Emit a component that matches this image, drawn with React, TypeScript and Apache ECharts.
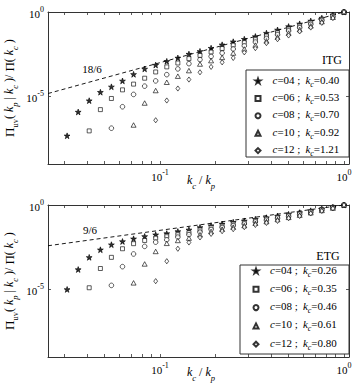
import React, { useEffect, useRef } from 'react';
import * as echarts from 'echarts';

const FONT = '"Liberation Serif", "Times New Roman", serif';

// x = k_c / k_p (from 1 down to the smallest ratio)
const kRatio = [1, 0.8706, 0.7579, 0.6598, 0.5743, 0.5, 0.4353, 0.3789, 0.3299, 0.2872, 0.25, 0.2176, 0.1895,
  0.1649, 0.1436, 0.125, 0.1088, 0.0947, 0.0825, 0.0718, 0.0625, 0.0544, 0.0474, 0.0412, 0.0359, 0.03125];

// log10 of Π_uv(k_p|k_c)/Π(k_c) — ITG panel
const itgC04 = [0, -0.18, -0.36, -0.53, -0.70, -0.86, -1.06, -1.25, -1.45, -1.61, -1.76, -1.94, -2.14, -2.33, -2.49,
  -2.72, -2.92, -3.14, -3.37, -3.69, -4.08, -4.43, -4.75, -5.25, -5.92, -7.33];
const itgC06 = [0, -0.22, -0.43, -0.63, -0.82, -1.0, -1.22, -1.41, -1.61, -1.80, -1.96, -2.16, -2.37, -2.57, -2.76,
  -3.02, -3.25, -3.55, -3.92, -4.27, -4.61, -5.12, -5.78, -7.04];
const itgC08 = [0, -0.27, -0.50, -0.73, -0.93, -1.12, -1.35, -1.57, -1.78, -2.0, -2.19, -2.43, -2.63, -2.82, -3.06,
  -3.37, -3.71, -4.08, -4.39, -4.88, -5.61, -6.88];
const itgC10 = [0, -0.31, -0.57, -0.82, -1.04, -1.25, -1.49, -1.71, -1.96, -2.19, -2.43, -2.69, -2.88, -3.08, -3.47,
  -3.80, -4.16, -4.65, -5.39, -6.69];
const itgC12 = [0, -0.36, -0.64, -0.92, -1.15, -1.39, -1.61, -1.84, -2.14, -2.39, -2.72, -2.98, -3.25, -3.57, -4.0,
  -4.53, -5.24, -6.41];

// ETG panel
const etgC04 = [0, -0.12, -0.23, -0.34, -0.45, -0.55, -0.65, -0.75, -0.84, -0.94, -1.02, -1.12, -1.22, -1.33, -1.47,
  -1.57, -1.69, -1.76, -1.86, -2.0, -2.16, -2.35, -2.65, -3.10, -3.82, -5.0];
const etgC06 = [0, -0.14, -0.26, -0.38, -0.50, -0.61, -0.73, -0.82, -0.92, -1.04, -1.12, -1.24, -1.33, -1.47, -1.63,
  -1.73, -1.84, -1.96, -2.10, -2.29, -2.59, -3.10, -3.76, -4.90];
const etgC08 = [0, -0.16, -0.29, -0.42, -0.55, -0.67, -0.78, -0.90, -1.0, -1.12, -1.22, -1.33, -1.45, -1.61, -1.76,
  -1.90, -2.06, -2.20, -2.45, -2.90, -3.65, -4.76];
const etgC10 = [0, -0.18, -0.32, -0.46, -0.60, -0.73, -0.86, -0.98, -1.08, -1.22, -1.31, -1.43, -1.57, -1.76, -1.96,
  -2.10, -2.27, -2.75, -3.49, -4.61];
const etgC12 = [0, -0.20, -0.35, -0.50, -0.65, -0.78, -0.94, -1.06, -1.18, -1.31, -1.43, -1.55, -1.71, -1.92, -2.22,
  -2.59, -3.33, -4.51];

const cLabels = ['04', '06', '08', '10', '12'];
const itgKc = ['0.40', '0.53', '0.70', '0.92', '1.21'];
const etgKc = ['0.26', '0.35', '0.46', '0.61', '0.80'];
const slopeLabels = ['18/6', '9/6'];
const slopes = [18 / 6, 9 / 6];

const xMin = 0.0246;
const xMax = 1.065;
const yMinExp = -9;
const yMaxExp = 0;
const yTickExps = [-5, 0];
const xLabelTicks = [0.1, 1];
const xTickVals = [0.03, 0.04, 0.05, 0.06, 0.07, 0.08, 0.09, 0.1, 0.2, 0.3, 0.4, 0.5, 0.6, 0.7, 0.8, 0.9, 1];

const yAxisTitle = '{P|Π}{u|uv}{n|( }{i|k}{s|p}{n| | }{i|k}{s|c}{n| )/ }{P|Π}{n|( }{i|k}{s|c}{n| )}';
const xAxisTitle = '{i|k}{s|c}{n| / }{i|k}{s|p}';

const STAR = 'path://M50,0 L61.8,35.3 L99,35.3 L69,57.3 L80.4,92.7 L50,70.8 L19.6,92.7 L31,57.3 L1,35.3 L38.2,35.3 Z';
const markers: any[] = [
  { symbol: STAR, size: 5.8, fill: '#000' },
  { symbol: 'rect', size: 4, fill: '#fff' },
  { symbol: 'circle', size: 4.6, fill: '#fff' },
  { symbol: 'triangle', size: [5, 4.5], fill: '#fff' },
  { symbol: 'diamond', size: [3.8, 5.2], fill: '#fff' },
];

const panels = [
  { tag: 'ITG', kc: itgKc, data: [itgC04, itgC06, itgC08, itgC10, itgC12], slope: slopes[0], slopeLabel: slopeLabels[0] },
  { tag: 'ETG', kc: etgKc, data: [etgC04, etgC06, etgC08, etgC10, etgC12], slope: slopes[1], slopeLabel: slopeLabels[1] },
];

// layout (pixels)
const gridTops = [12, 205];
const legendPos = [{ left: 254.5, top: 74, gap: 3.4, pad: 7 }, { left: 252.5, top: 264, gap: 4.3, pad: 6.5 }];
const legendBoxes = [{ x: 246, y: 70, w: 103, h: 87 }, { x: 240, y: 265, w: 109, h: 89 }];
const tagPos = [{ x: 332, y: 60 }, { x: 328, y: 256 }];
const slopeLabelPos = [{ x: 92, y: 69 }, { x: 90, y: 230 }];
const yTitlePos = [{ x: 11, y: 88 }, { x: 11, y: 281 }];
const xTitlePos = [{ x: 201, y: 182 }, { x: 201, y: 374 }];

const AX = '#333';

const tickRich = {
  b: { fontFamily: FONT, fontSize: 11, lineHeight: 14, verticalAlign: 'bottom', color: '#000' },
  p: { fontFamily: FONT, fontSize: 8, lineHeight: 14, verticalAlign: 'top', color: '#000' },
};
const nameRich = {
  P: { fontFamily: FONT, fontSize: 13, lineHeight: 16, verticalAlign: 'top', fill: '#000', color: '#000' },
  n: { fontFamily: FONT, fontSize: 12, lineHeight: 16, verticalAlign: 'top', fill: '#000', color: '#000' },
  i: { fontFamily: FONT, fontSize: 12, fontStyle: 'italic', lineHeight: 16, verticalAlign: 'top', fill: '#000', color: '#000' },
  s: { fontFamily: FONT, fontSize: 8.5, fontStyle: 'italic', lineHeight: 16, verticalAlign: 'bottom', fill: '#000', color: '#000' },
  u: { fontFamily: FONT, fontSize: 8.5, lineHeight: 16, verticalAlign: 'bottom', fill: '#000', color: '#000' },
};
const makeLegendRich = (pad: number) => ({
  g: { fontFamily: FONT, fontSize: 11, fontStyle: 'italic', lineHeight: 14, verticalAlign: 'top', color: '#000', padding: [0, 0, 0, pad] },
  i: { fontFamily: FONT, fontSize: 11, fontStyle: 'italic', lineHeight: 14, verticalAlign: 'top', color: '#000' },
  n: { fontFamily: FONT, fontSize: 11, lineHeight: 14, verticalAlign: 'top', color: '#000' },
  w: { fontFamily: FONT, fontSize: 11, lineHeight: 14, verticalAlign: 'top', color: '#000', width: 28 },
  s: { fontFamily: FONT, fontSize: 8, fontStyle: 'italic', lineHeight: 14, verticalAlign: 'bottom', color: '#000' },
});

const expLabel = (v: number) => `{b|10}{p|${Math.round(v)}}`;

function buildOption() {
  const grids: any[] = [];
  const xAxes: any[] = [];
  const yAxes: any[] = [];
  const series: any[] = [];
  const legends: any[] = [];
  const graphics: any[] = [];
  const xTickLogs = xTickVals.map((v) => Math.log10(v));
  const xLabelLogs = xLabelTicks.map((v) => Math.log10(v));

  panels.forEach((p, pi) => {
    grids.push({ left: 48, top: gridTops[pi], width: 301, height: 152, containLabel: false, outerBoundsMode: 'none' });
    const xBase = {
      type: 'value', gridIndex: pi, min: Math.log10(xMin), max: Math.log10(xMax),
      splitLine: { show: false },
      axisLine: { show: true, onZero: false, lineStyle: { color: AX, width: 1 } },
      axisTick: { show: true, inside: true, length: 3, customValues: xTickLogs, lineStyle: { color: AX, width: 0.8 } },
    };
    xAxes.push({
      ...xBase, position: 'bottom',
      axisLabel: { show: true, customValues: xLabelLogs, formatter: expLabel, rich: tickRich, margin: 4 },
    });
    xAxes.push({ ...xBase, position: 'top', axisLabel: { show: false } });
    const yBase = {
      type: 'value', gridIndex: pi, min: yMinExp, max: yMaxExp,
      splitLine: { show: false },
      axisLine: { show: true, onZero: false, lineStyle: { color: AX, width: 1 } },
      axisTick: { show: true, inside: true, length: 3, customValues: yTickExps, lineStyle: { color: AX, width: 0.8 } },
    };
    yAxes.push({
      ...yBase, position: 'left',
      axisLabel: { show: true, customValues: yTickExps, formatter: expLabel, rich: tickRich, margin: 4 },
    });
    yAxes.push({ ...yBase, position: 'right', axisLabel: { show: false } });

    const xAxisIndex = pi * 2;
    const yAxisIndex = pi * 2;
    const lx = Math.log10(xMin);
    series.push({
      type: 'line', xAxisIndex, yAxisIndex, silent: true, symbol: 'none', z: 1,
      data: [[lx, p.slope * lx], [0, 0]],
      lineStyle: { color: '#000', width: 0.9, type: [4, 3] },
    });
    const names: string[] = [];
    p.data.forEach((arr, j) => {
      const name = `${p.tag} c=${cLabels[j]}`;
      names.push(name);
      const m = markers[j];
      series.push({
        type: 'scatter', name, xAxisIndex, yAxisIndex, z: 3,
        data: arr.map((v, i) => [Math.log10(kRatio[i]), v]),
        symbol: m.symbol, symbolSize: m.size,
        itemStyle: { color: m.fill, borderColor: '#000', borderWidth: 0.8 },
      });
    });
    legends.push({
      orient: 'vertical', left: legendPos[pi].left, top: legendPos[pi].top, itemGap: legendPos[pi].gap,
      itemWidth: 5, itemHeight: 5, padding: 0, selectedMode: false,
      data: names,
      formatter: (name: string) => {
        const c = name.split('c=')[1];
        const j = cLabels.indexOf(c);
        return `{g|c}{w|=${c} ;}{i|k}{s|c}{n|=${p.kc[j]}}`;
      },
      textStyle: { rich: makeLegendRich(legendPos[pi].pad) },
    });
    const b = legendBoxes[pi];
    graphics.push({
      type: 'rect', shape: { x: b.x, y: b.y, width: b.w, height: b.h },
      style: { fill: 'none', stroke: AX, lineWidth: 1 }, z: 2,
    });
    graphics.push({
      type: 'text', x: tagPos[pi].x, y: tagPos[pi].y, z: 5,
      style: { text: p.tag, fontFamily: FONT, fontSize: 12, fill: '#000', align: 'center', verticalAlign: 'middle', textAlign: 'center', textVerticalAlign: 'middle' },
    });
    graphics.push({
      type: 'text', x: slopeLabelPos[pi].x, y: slopeLabelPos[pi].y, z: 5,
      style: { text: p.slopeLabel, fontFamily: FONT, fontSize: 11, fill: '#000', align: 'center', verticalAlign: 'middle', textAlign: 'center', textVerticalAlign: 'middle' },
    });
    graphics.push({
      type: 'text', x: yTitlePos[pi].x, y: yTitlePos[pi].y, rotation: Math.PI / 2, z: 5,
      style: { text: yAxisTitle, rich: nameRich, fontFamily: FONT, fill: '#000', align: 'center', verticalAlign: 'middle', textAlign: 'center', textVerticalAlign: 'middle' },
    });
    graphics.push({
      type: 'text', x: xTitlePos[pi].x, y: xTitlePos[pi].y, z: 5,
      style: { text: xAxisTitle, rich: nameRich, fontFamily: FONT, fill: '#000', align: 'center', verticalAlign: 'middle', textAlign: 'center', textVerticalAlign: 'middle' },
    });
  });

  return {
    animation: false,
    backgroundColor: '#fff',
    textStyle: { fontFamily: FONT },
    grid: grids,
    xAxis: xAxes,
    yAxis: yAxes,
    legend: legends,
    series,
    graphic: graphics,
  };
}

export default function App() {
  const ref = useRef<HTMLDivElement>(null);
  useEffect(() => {
    const chart = echarts.init(ref.current!, null, { renderer: 'svg' });
    chart.setOption(buildOption() as any);
    return () => chart.dispose();
  }, []);
  return (
    <div
      ref={ref}
      style={{ position: 'fixed', left: 0, top: 0, width: 357, height: 388, background: '#fff' }}
    />
  );
}
